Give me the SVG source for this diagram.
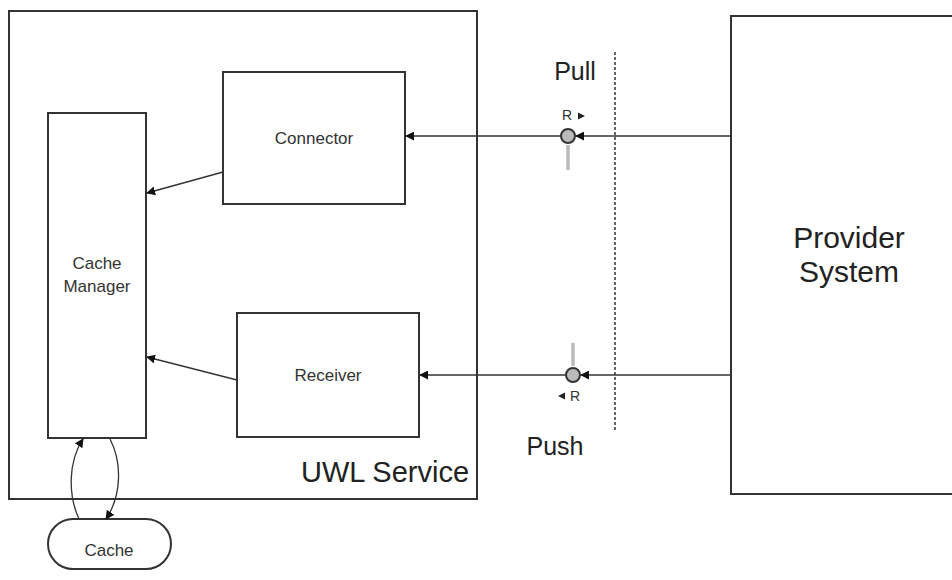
<svg xmlns="http://www.w3.org/2000/svg" width="952" height="580" viewBox="0 0 952 580">
<defs>
<style>
.box{fill:#fff;stroke:#333;stroke-width:2}
.t{font-family:"Liberation Sans",Arial,sans-serif;fill:#333;text-anchor:middle}
.s{font-size:17px}
.b{font-size:29px;fill:#222}
.p{font-size:30px;fill:#222}
.m{font-size:25px;fill:#222}
.c{fill:none;stroke:#333;stroke-width:1.3}
.stub{stroke:#bbb;stroke-width:3.5}
.port{fill:#bbb;stroke:#333;stroke-width:2}
</style>
<marker id="ah" viewBox="0 0 10 10" refX="9" refY="5" markerWidth="9" markerHeight="9" markerUnits="userSpaceOnUse" orient="auto">
<path d="M0,0 L10,5 L0,10 z" fill="#111"/>
</marker>
</defs>
<rect width="952" height="580" fill="#fff"/>
<g id="uwl-service">
<rect class="box" x="9" y="11" width="468" height="488"/>
<text class="t b" x="385" y="482">UWL Service</text>
</g>
<g id="provider-system">
<rect class="box" x="731" y="16" width="240" height="478"/>
<text class="t p" x="849" y="248">Provider</text>
<text class="t p" x="849" y="282">System</text>
</g>
<g id="cache-manager">
<rect class="box" x="48" y="113" width="98" height="325"/>
<text class="t s" x="97" y="269">Cache</text>
<text class="t s" x="97" y="292">Manager</text>
</g>
<g id="connector">
<rect class="box" x="223" y="72" width="182" height="132"/>
<text class="t s" x="314" y="144">Connector</text>
</g>
<g id="receiver">
<rect class="box" x="237" y="313" width="182" height="124"/>
<text class="t s" x="328" y="381">Receiver</text>
</g>
<g id="cache">
<rect class="box" x="48" y="519" width="123" height="50" rx="25" ry="25"/>
<text class="t s" x="109" y="556">Cache</text>
</g>
<g id="labels">
<text class="t m" x="575" y="80">Pull</text>
<text class="t m" x="555" y="455">Push</text>
<line x1="615" y1="52" x2="615" y2="432" stroke="#666" stroke-width="2" stroke-dasharray="3,2"/>
</g>
<g id="pull-port">
<line class="stub" x1="568" y1="145" x2="568" y2="170"/>
<circle class="port" cx="568" cy="136" r="7"/>
<text class="t" x="567" y="120" font-size="14">R</text>
<path d="M578,112.5 L585,116 L578,119.5 z" fill="#222"/>
</g>
<g id="push-port">
<line class="stub" x1="573" y1="343" x2="573" y2="366"/>
<circle class="port" cx="573" cy="375" r="7"/>
<text class="t" x="575" y="401" font-size="14">R</text>
<path d="M565,392.5 L558,396 L565,399.5 z" fill="#222"/>
</g>
<g id="connectors">
<line class="c" x1="731" y1="136" x2="576" y2="136" marker-end="url(#ah)"/>
<line class="c" x1="561" y1="136" x2="406" y2="136" marker-end="url(#ah)"/>
<line class="c" x1="731" y1="375" x2="581" y2="375" marker-end="url(#ah)"/>
<line class="c" x1="566" y1="375" x2="420" y2="375" marker-end="url(#ah)"/>
<line class="c" x1="223" y1="172" x2="147" y2="193" marker-end="url(#ah)"/>
<line class="c" x1="237" y1="380" x2="147" y2="357" marker-end="url(#ah)"/>
<path class="c" d="M79,519 C68,495 68,462 83,439" marker-end="url(#ah)"/>
<path class="c" d="M110,439 C122,462 122,495 106,519" marker-end="url(#ah)"/>
</g>
</svg>
